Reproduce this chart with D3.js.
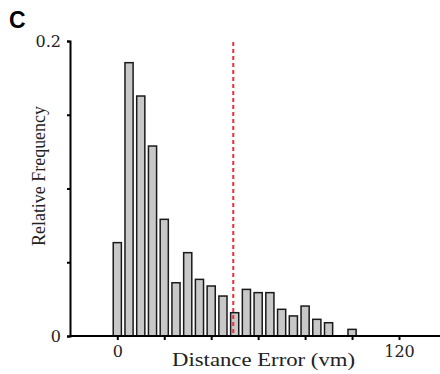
<!DOCTYPE html>
<html><head><meta charset="utf-8">
<script src="https://cdn.jsdelivr.net/npm/d3@7"></script>
<style>body{margin:0;background:#fff;}svg{display:block;}</style>
</head><body>
<svg id="c" width="440" height="374"></svg>
<script>
const binCenters = [0,5,10,15,20,25,30,35,40,45,50,55,60,65,70,75,80,85,90,95,100];
const frequencies = [0.0633,0.1853,0.1627,0.1288,0.0791,0.0361,0.0565,0.0384,0.0339,0.0271,0.0158,0.0316,0.0294,0.0294,0.0181,0.0136,0.0203,0.0113,0.009,0,0.0045];
const binWidth = 5;
const meanError = 49.4;
const xTicks = [0,20,40,60,80,100,120];
const xTickLabels = ["0","","","","","","120"];
const yTicks = [0,0.05,0.1,0.15,0.2];
const yTickLabels = ["0","","","","0.2"];

const svg = d3.select("#c");
const x = d3.scaleLinear().domain([0,120]).range([117.3,399]);
const y = d3.scaleLinear().domain([0,0.2]).range([336,41]);
const serif = "'Liberation Serif', 'DejaVu Serif', serif";
const tickFont = "'DejaVu Serif', 'Liberation Serif', serif";

// bars
const inset = 1.8;
svg.append("g").selectAll("rect")
  .data(binCenters.map((c,i)=>({c, v:frequencies[i]})).filter(d=>d.v>0))
  .join("rect")
  .attr("x", d=>x(d.c-binWidth/2)+inset)
  .attr("width", d=>x(d.c+binWidth/2)-x(d.c-binWidth/2)-2*inset)
  .attr("y", d=>y(d.v))
  .attr("height", d=>y(0)-y(d.v))
  .attr("fill","#c8c8c8").attr("stroke","#1a1a1a").attr("stroke-width",1.5);

// mean line
svg.append("line")
  .attr("x1",x(meanError)).attr("x2",x(meanError))
  .attr("y1",y(0.2)+1).attr("y2",y(0))
  .attr("stroke","#e8303a").attr("stroke-width",2).attr("stroke-dasharray","4,3");

// y axis
const yAxis = svg.append("g").attr("transform","translate(70,0)")
  .call(d3.axisLeft(y).tickValues(yTicks).tickFormat((d,i)=>yTickLabels[i]).tickSizeOuter(0).tickSize(3).tickPadding(6));
yAxis.select(".domain").attr("stroke","#000").attr("stroke-width",2);
yAxis.selectAll(".tick line").attr("stroke","#000").attr("stroke-width",2);
yAxis.selectAll(".tick text").attr("font-family",tickFont).attr("font-size",16).attr("fill","#222");

// x axis
const xAxis = svg.append("g").attr("transform","translate(0,336)");
xAxis.append("line").attr("x1",70).attr("x2",440).attr("y1",0).attr("y2",0).attr("stroke","#000").attr("stroke-width",2);
xAxis.call(g=>{
  const ax = d3.axisBottom(x).tickValues(xTicks).tickFormat((d,i)=>xTickLabels[i]).tickSizeOuter(0).tickSize(4).tickPadding(6);
  const inner = g.append("g").call(ax);
  inner.select(".domain").remove();
  inner.selectAll(".tick line").attr("stroke","#000").attr("stroke-width",2);
  inner.selectAll(".tick text").attr("font-family",tickFont).attr("font-size",16).attr("fill","#222");
});

// labels
svg.append("text").attr("x",263.5).attr("y",366).attr("text-anchor","middle")
  .attr("font-family",serif).attr("font-size",19).attr("fill","#222")
  .attr("textLength",183).attr("lengthAdjust","spacingAndGlyphs").text("Distance Error (vm)");
svg.append("text").attr("transform","translate(45,176) rotate(-90)").attr("text-anchor","middle")
  .attr("font-family",serif).attr("font-size",18.5).attr("fill","#222")
  .attr("textLength",140).attr("lengthAdjust","spacingAndGlyphs").text("Relative Frequency");
svg.append("text").attr("x",9).attr("y",28)
  .attr("font-family","'Liberation Sans', Arial, sans-serif").attr("font-weight","bold").attr("font-size",23).attr("fill","#000").text("C");
</script>
</body></html>
